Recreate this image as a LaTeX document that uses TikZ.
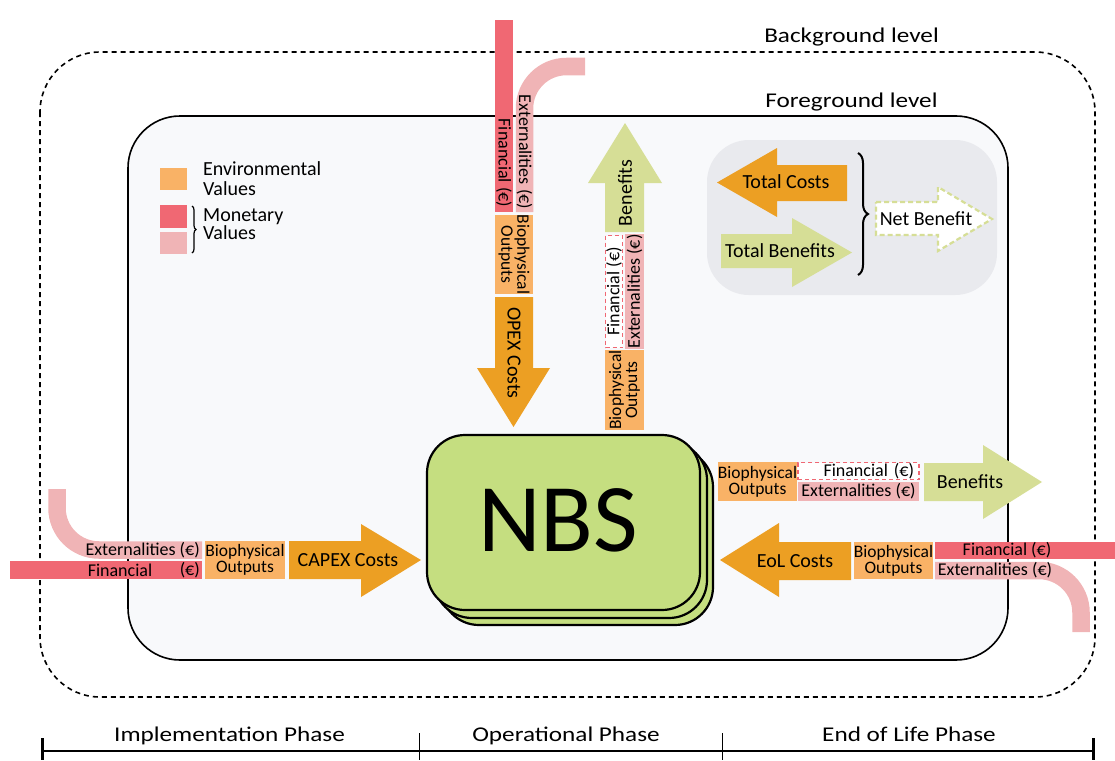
\documentclass[tikz,border=0pt]{standalone}
\usepackage{fontspec}
\setmainfont{Carlito}
\newfontfamily\widefont{Carlito}[FakeStretch=1.2]
\usetikzlibrary{decorations.pathreplacing}

\definecolor{costc}{RGB}{236,159,35}
\definecolor{bioc}{RGB}{249,178,102}
\definecolor{finc}{RGB}{240,104,115}
\definecolor{extc}{RGB}{240,180,182}
\definecolor{benc}{RGB}{214,222,150}
\definecolor{nbsc}{RGB}{197,222,128}
\definecolor{fgc}{RGB}{248,249,251}
\definecolor{sumc}{RGB}{233,234,238}

\begin{document}
\begin{tikzpicture}[x=1pt, y=-1pt,
  lbl/.style={inner sep=0pt, font=\fontsize{20}{20}\selectfont},
  barlbl/.style={inner sep=0pt, font=\fontsize{18}{18}\selectfont},
  levellbl/.style={inner sep=0pt, anchor=base, font=\widefont\fontsize{21}{21}\selectfont},
  bio/.style={fill=bioc, inner sep=0pt, align=center, font=\fontsize{17.5}{16}\selectfont},
  findash/.style={draw=finc, fill=white, dashed, dash pattern=on 4pt off 3pt, line width=1.2pt, inner sep=0pt, font=\fontsize{18}{18}\selectfont},
  extbox/.style={fill=extc, inner sep=0pt, font=\fontsize{18}{18}\selectfont},
  extband/.style={draw=extc, line width=17.5pt, rounded corners=42pt},
  nbscard/.style={draw, fill=nbsc, line width=2.2pt, rounded corners=38pt}]

\useasboundingbox (0,0) rectangle (1115,760);

% levels
\draw [dashed, dash pattern=on 5pt off 4pt, line width=1.6pt, rounded corners=60pt] (40,52) rectangle (1095,697);
\draw [fill=fgc, line width=1.6pt, rounded corners=52pt] (128,116) rectangle (1008,660);
\node [levellbl] (bglevel) at (851.5,43) {Background level};
\node [levellbl] (fglevel) at (851.5,107) {Foreground level};

% legend
\fill [bioc] (160,168) rectangle (187,190);
\fill [finc] (160,205) rectangle (187,228);
\fill [extc] (160,232) rectangle (187,254);
\node [anchor=north west, align=left, inner sep=0pt, font=\fontsize{20}{20}\selectfont] (envleg) at (203,161) {Environmental\\Values};
\node [anchor=north west, align=left, inner sep=0pt, font=\fontsize{20}{18}\selectfont] (monleg) at (203,208) {Monetary\\Values};
\draw [line width=1.2pt, decorate, decoration={brace, amplitude=4pt}] (192,206) -- (192,253);

% summary
\fill [sumc, rounded corners=42pt] (707,140) rectangle (997,295);
\fill [costc] (847,165) -- (777,165) -- (777,148) -- (717,182.5) -- (777,217) -- (777,201) -- (847,201) -- cycle;
\node [lbl] (totcost) at (786,182) {Total Costs};
\fill [benc] (721,234) -- (792,234) -- (792,218) -- (852,252.5) -- (792,287) -- (792,268) -- (721,268) -- cycle;
\node [lbl] (totben) at (780,251) {Total Benefits};
\draw [line width=2pt, decorate, decoration={brace, amplitude=10pt}] (858,153) -- (858,275);
\draw [draw=benc, fill=white, dashed, dash pattern=on 5pt off 3pt, line width=2.2pt] (876,202) -- (938,202) -- (938,187) -- (992,219) -- (938,251) -- (938,235) -- (876,235) -- cycle;
\node [lbl] (netben) at (926,219) {Net Benefit};

% operational phase, costs
\fill [finc] (495,20) rectangle (513,212);
\node [barlbl, rotate=-90] (finopex) at (504,163) {Financial (€)};
\draw [extband] (524.5,212) -- (524.5,66.5) -- (585,66.5);
\node [barlbl, rotate=-90] (extopex) at (524.5,152) {Externalities (€)};
\node [bio, rotate=-90, minimum width=75pt, minimum height=38pt] (bioopex) at (514,254.5) {Biophysical\\Outputs};
\fill [costc] (495,297) -- (533,297) -- (533,368) -- (550,368) -- (513.5,427) -- (477,368) -- (495,368) -- cycle;
\node [lbl, rotate=-90] (opex) at (514,353) {OPEX Costs};

% operational phase, benefits
\fill [benc] (605,232) -- (605,183) -- (588,183) -- (625,123) -- (662,183) -- (644,183) -- (644,232) -- cycle;
\node [lbl, rotate=90] (benop) at (625,193) {Benefits};
\node [findash, rotate=90, minimum width=112pt, minimum height=17pt] (finop) at (614,291.5) {Financial (€)};
\node [extbox, rotate=90, minimum width=113pt, minimum height=19pt] (extop) at (634.5,291.5) {Externalities (€)};
\node [bio, rotate=90, minimum width=76pt, minimum height=39pt] (bioop) at (624.5,390) {Biophysical\\Outputs};

% implementation phase
\draw [extband] (57,489) -- (57,550) -- (202,550);
\node [barlbl, anchor=east] (extcapex) at (200,550) {Externalities (€)};
\fill [finc] (10,561) rectangle (202,579);
\node [barlbl] (fincapex) at (120,570) {Financial};
\node [barlbl, anchor=east] (eurcapex) at (200,570) {(€)};
\node [bio, minimum width=76pt, minimum height=38pt] (biocapex) at (245,560) {Biophysical\\Outputs};
\fill [costc] (289,541) -- (361,541) -- (361,524) -- (421,560) -- (361,597) -- (361,579) -- (289,579) -- cycle;
\node [lbl] (capex) at (348,560) {CAPEX Costs};

% NBS
\draw [nbscard] (441,449) rectangle (713,625);
\draw [nbscard] (434,442) rectangle (707,618);
\draw [nbscard] (427,435) rectangle (700,610);
\node [inner sep=0pt, font=\fontsize{97}{97}\selectfont] (nbs) at (558,520) {NBS};

% end of life, benefits
\node [bio, minimum width=77pt, minimum height=39pt] (bioben) at (757.5,481.5) {Biophysical\\Outputs};
\node [findash, minimum height=17pt, text width=111pt, inner xsep=5pt, align=right] (finben) at (858.5,471) {Financial (€)};
\node [extbox, minimum width=121pt, minimum height=19pt] (extben) at (858.5,491.5) {Externalities (€)};
\fill [benc] (924,463) -- (983,463) -- (983,445) -- (1042,482) -- (983,519) -- (983,501) -- (924,501) -- cycle;
\node [lbl] (benend) at (970,482) {Benefits};

% end of life, costs
\fill [costc] (851,542) -- (779,542) -- (779,523) -- (720,560) -- (779,597) -- (779,580) -- (851,580) -- cycle;
\node [lbl] (eol) at (795,561) {EoL Costs};
\node [bio, minimum width=75pt, minimum height=37pt] (bioeol) at (893.5,560.5) {Biophysical\\Outputs};
\fill [finc] (935,542) rectangle (1115,559);
\node [barlbl] (fineol) at (1007,550.5) {Financial (€)};
\draw [extband] (935,570.5) -- (1081,570.5) -- (1081,632);
\node [barlbl] (exteol) at (995,570.5) {Externalities (€)};

% phases
\coordinate (p0) at (42,751);
\coordinate (p1) at (419,751);
\coordinate (p2) at (722,751);
\coordinate (p3) at (1093,751);
\draw [line width=1.6pt] (p0) -- (p3);
\draw [line width=3pt] (42,738) -- (42,760);
\draw [line width=3pt] (1093,738) -- (1093,760);
\draw [line width=1pt] (419,733) -- (419,760);
\draw [line width=1pt] (722,733) -- (722,760);
\node [levellbl] (impl) at (229.5,741) {Implementation Phase};
\node [levellbl] (oper) at (566,741) {Operational Phase};
\node [levellbl] (eolph) at (909,741) {End of Life Phase};

\end{tikzpicture}
\end{document}
